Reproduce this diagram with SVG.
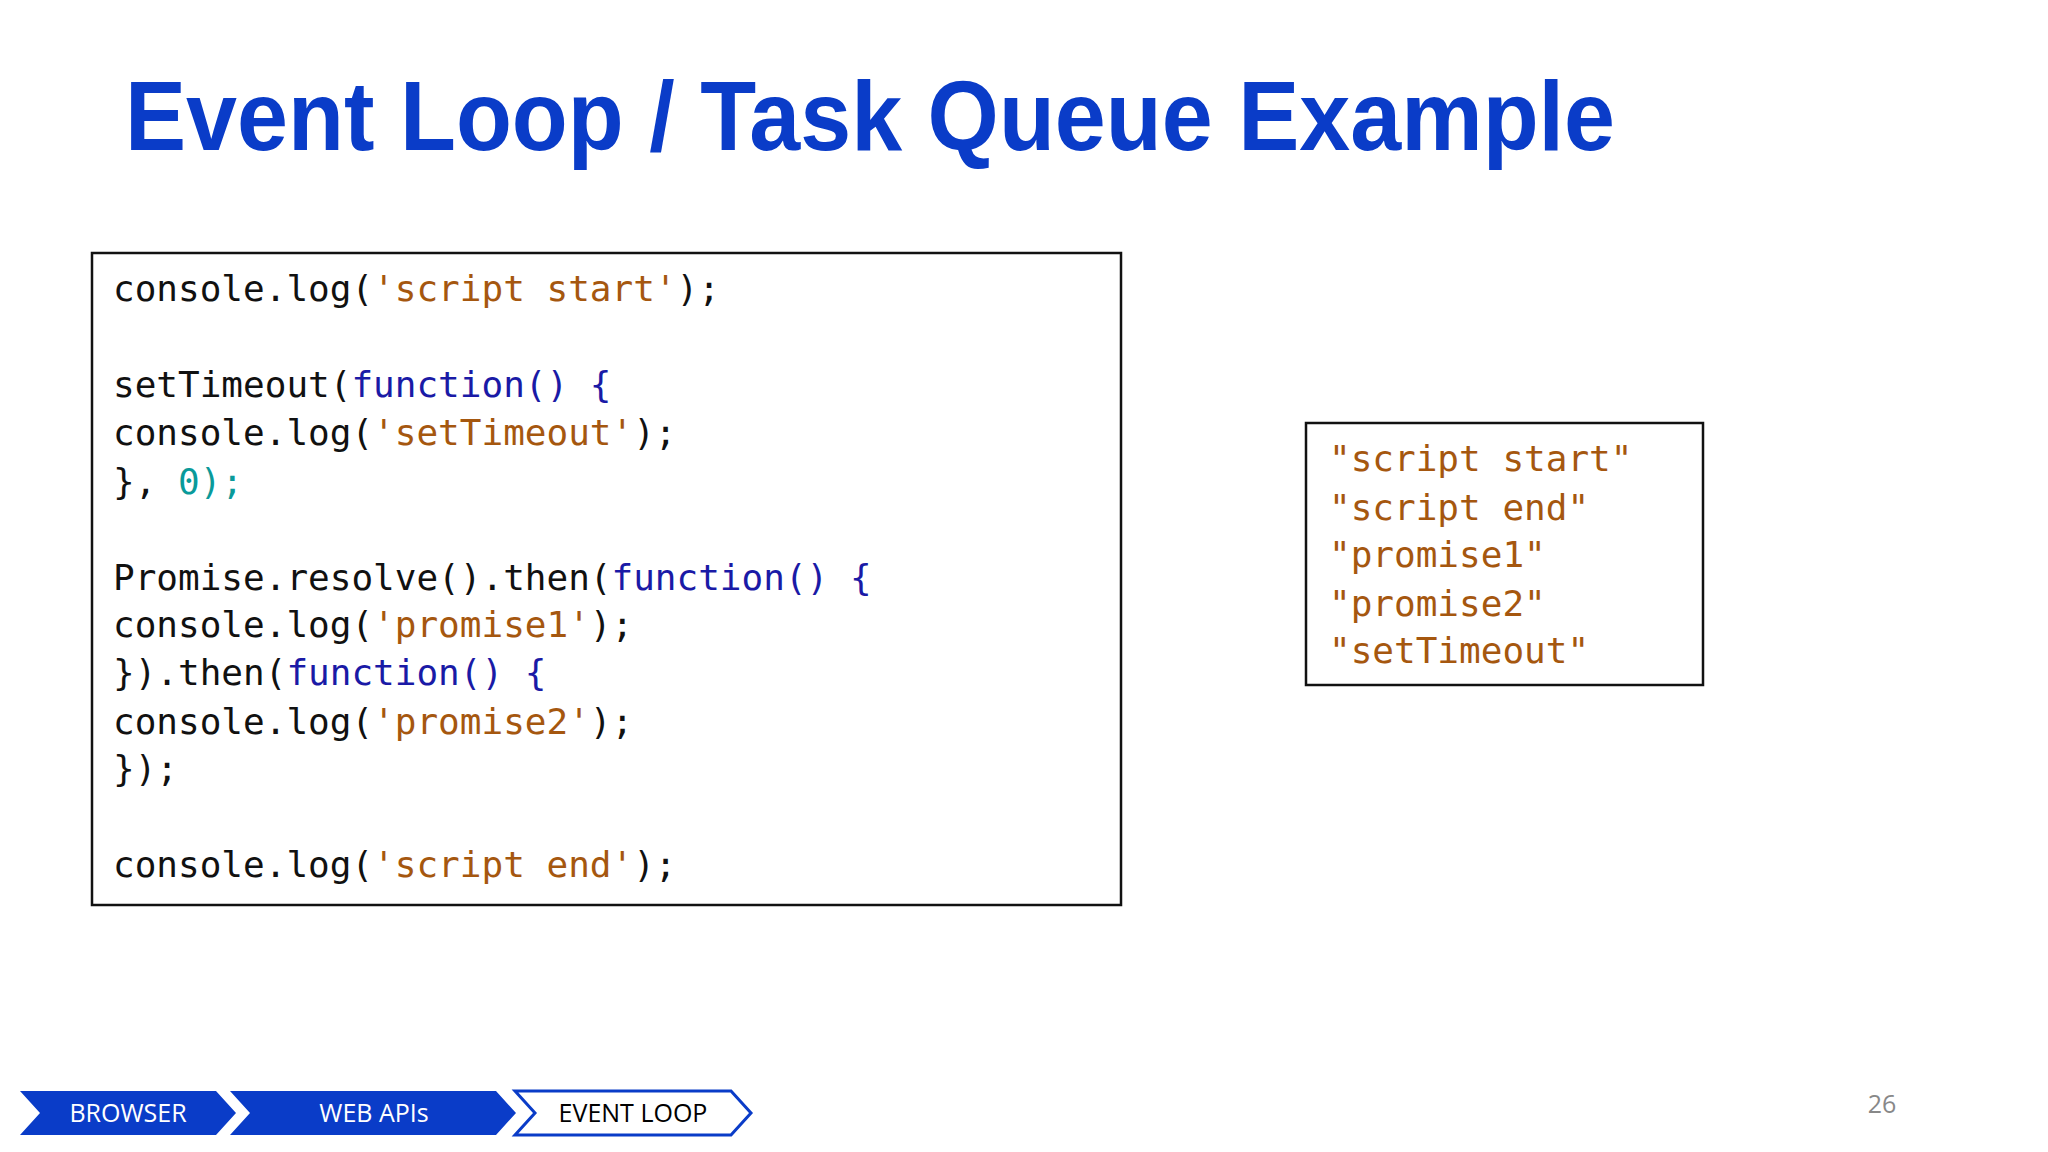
<svg xmlns="http://www.w3.org/2000/svg" width="2048" height="1152" viewBox="0 0 2048 1152">
<style>
.c{font-family:"DejaVu Sans Mono","Liberation Mono",monospace;font-size:36px;fill:#111}
.k{fill:#1a1aa6}.s{fill:#a5570f}.n{fill:#0a9a9a}
.box{fill:#fff;stroke:#111;stroke-width:2.5}
.nav{font-family:"Open Sans","Liberation Sans",sans-serif;font-size:25px;text-anchor:middle}
</style>
<rect width="2048" height="1152" fill="#fff"/>
<text x="125" y="150" font-family="Liberation Sans,Arial,sans-serif" font-weight="bold" font-size="98" fill="#0a3cc8" textLength="1490" lengthAdjust="spacingAndGlyphs">Event Loop / Task Queue Example</text>
<g id="code">
<rect class="box" x="92" y="253" width="1029" height="652"/>
<text class="c" x="113" y="301">console.log(<tspan class="s">'script start'</tspan>);</text>
<text class="c" x="113" y="397">setTimeout(<tspan class="k">function() {</tspan></text>
<text class="c" x="113" y="445">  console.log(<tspan class="s">'setTimeout'</tspan>);</text>
<text class="c" x="113" y="494">}, <tspan class="n">0);</tspan></text>
<text class="c" x="113" y="590">Promise.resolve().then(<tspan class="k">function() {</tspan></text>
<text class="c" x="113" y="637">  console.log(<tspan class="s">'promise1'</tspan>);</text>
<text class="c" x="113" y="685">}).then(<tspan class="k">function() {</tspan></text>
<text class="c" x="113" y="734">  console.log(<tspan class="s">'promise2'</tspan>);</text>
<text class="c" x="113" y="781">});</text>
<text class="c" x="113" y="877">console.log(<tspan class="s">'script end'</tspan>);</text>
</g>
<g id="output">
<rect class="box" x="1306" y="423" width="397" height="262"/>
<text class="c s" x="1329" y="471">"script start"</text>
<text class="c s" x="1329" y="520">"script end"</text>
<text class="c s" x="1329" y="567">"promise1"</text>
<text class="c s" x="1329" y="616">"promise2"</text>
<text class="c s" x="1329" y="663">"setTimeout"</text>
</g>
<g id="nav-browser">
<polygon points="20,1091 216,1091 236,1113 216,1135 20,1135 40,1113" fill="#0a3cc8"/>
<text class="nav" x="128" y="1122" fill="#fff">BROWSER</text>
</g>
<g id="nav-webapis">
<polygon points="230,1091 496,1091 516,1113 496,1135 230,1135 250,1113" fill="#0a3cc8"/>
<text class="nav" x="374" y="1122" fill="#fff">WEB APIs</text>
</g>
<g id="nav-eventloop">
<polygon points="515,1091 731,1091 751,1113 731,1135 515,1135 535,1113" fill="#fff" stroke="#0a3cc8" stroke-width="3"/>
<text class="nav" x="633" y="1122" fill="#000">EVENT LOOP</text>
</g>
<g id="connectors"/>
<text x="1882" y="1113" font-family="Open Sans,Liberation Sans,sans-serif" font-size="25" fill="#888" text-anchor="middle">26</text>
</svg>
